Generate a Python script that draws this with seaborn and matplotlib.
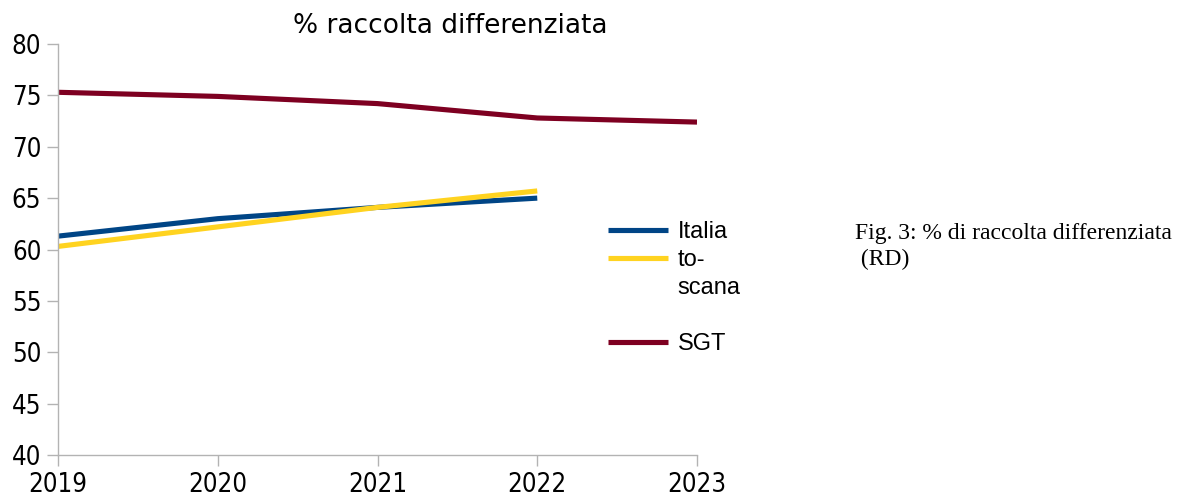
import matplotlib
matplotlib.use("Agg")
import matplotlib.pyplot as plt
from matplotlib.font_manager import FontProperties
import pandas as pd
import seaborn as sns

# ── Data ──────────────────────────────────────────────────────────────────
years   = [2019, 2020, 2021, 2022, 2023]
italia  = [61.3, 63.0, 64.1, 65.0, None]
toscana = [60.3, 62.2, 64.1, 65.7, None]
sgt     = [75.3, 74.9, 74.2, 72.8, 72.4]

series = {"Italia": italia, "toscana": toscana, "SGT": sgt}
PALETTE = {"Italia": "#004586", "toscana": "#ffd320", "SGT": "#7e0021"}

df = pd.DataFrame(
    [(y, name, v) for name, vals in series.items() for y, v in zip(years, vals) if v is not None],
    columns=["Anno", "Serie", "Valore"],
)

sns.set_theme(style="white")
plt.rcParams["font.family"] = ["DejaVu Sans"]
plt.rcParams["text.color"] = "black"

fig = plt.figure(figsize=(11.8, 5.0), dpi=100)
ax = fig.add_axes([58 / 1180, 45 / 500, (697 - 58) / 1180, (456 - 45) / 500])

sns.lineplot(data=df, x="Anno", y="Valore", hue="Serie", palette=PALETTE,
             linewidth=3.7, ax=ax, legend=False)
for ln in ax.lines:
    ln.set_solid_capstyle("butt")

ax.set_xlim(2019, 2023)
ax.set_ylim(40, 80)
ax.set_xticks(years)
ax.set_yticks(range(40, 81, 5))
ax.set_xlabel("")
ax.set_ylabel("")
ax.tick_params(axis="both", length=8, width=1, color="#b3b3b3", labelcolor="black",
               direction="out", pad=4, bottom=True, left=True)
ax.tick_params(axis="x", pad=4)
tick_font = FontProperties(family=["DejaVu Sans Condensed", "DejaVu Sans"],
                           size=18.5, stretch="condensed")
for lab in ax.get_xticklabels() + ax.get_yticklabels():
    lab.set_fontproperties(tick_font)
for s in ["top", "right"]:
    ax.spines[s].set_visible(False)
for s in ["left", "bottom"]:
    ax.spines[s].set_color("#b3b3b3")
    ax.spines[s].set_linewidth(1)

fig.text(450 / 1180, 1 - 26 / 500, "% raccolta differenziata", ha="center",
         va="center", fontsize=19)

# Legend: one row per text line, like the original (label wraps to two lines)
blank = plt.Line2D([], [], color="none")
handles = [plt.Line2D([], [], color=PALETTE["Italia"], linewidth=3.7, solid_capstyle="butt"),
           plt.Line2D([], [], color=PALETTE["toscana"], linewidth=3.7, solid_capstyle="butt"),
           blank, blank,
           plt.Line2D([], [], color=PALETTE["SGT"], linewidth=3.7, solid_capstyle="butt")]
labels = ["Italia", "to-", "scana", " ", "SGT"]
fig.legend(handles, labels, loc="center left",
           bbox_to_anchor=(608 / 1180, 1 - 288 / 500), frameon=False,
           prop={"family": "Liberation Sans", "size": 17},
           handlelength=2.55, handletextpad=0.4, labelspacing=0.25,
           borderpad=0, borderaxespad=0)

fig.text(855 / 1180, 1 - 247 / 500, "Fig. 3: % di raccolta differenziata\n (RD)",
         ha="left", va="center", fontsize=17, family="Liberation Serif",
         linespacing=1.3)

plt.savefig("out.png", dpi=100)
